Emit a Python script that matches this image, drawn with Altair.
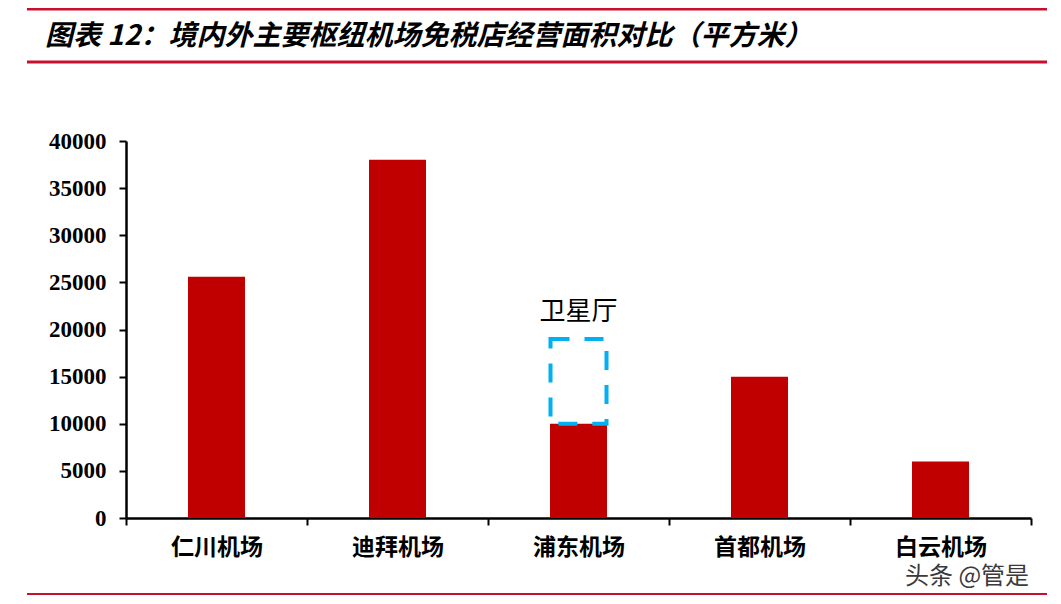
import altair as alt
import pandas as pd

categories = ["仁川机场", "迪拜机场", "浦东机场", "首都机场", "白云机场"]
areas = [25600, 38000, 10000, 15000, 6000]

ann_category = ["浦东机场"]
ann_low = [10000]
ann_high = [19000]
ann_label = ["卫星厅"]

title_text = "图表 12：境内外主要枢纽机场免税店经营面积对比（平方米）"
watermark = "头条 @管是"
y_ticks = [0, 5000, 10000, 15000, 20000, 25000, 30000, 35000, 40000]

df = pd.DataFrame({"cat": categories, "val": areas})
ann = pd.DataFrame({"cat": ann_category, "lo": ann_low, "hi": ann_high, "label": ann_label})
one = pd.DataFrame({"t": [title_text], "w": [watermark]})

W, H = 905, 377
RED = "#C00000"
LINE = "#C8102E"

xenc = alt.X("cat:N", sort=categories, title=None,
             scale=alt.Scale(paddingInner=0, paddingOuter=0),
             axis=alt.Axis(tickBand="extent", labelAngle=0, labelFont="Noto Sans CJK SC",
                           labelFontSize=23, labelFontWeight="bold", labelColor="black",
                           labelPadding=11, tickSize=7, tickWidth=2, tickColor="black",
                           domainColor="black", domainWidth=2.5, grid=False))
yscale = alt.Scale(domain=[0, 40000], nice=False)

bars = alt.Chart(df).mark_bar(size=57, color=RED).encode(
    x=xenc,
    y=alt.Y("val:Q", scale=yscale, title=None,
            axis=alt.Axis(values=y_ticks, format="d", grid=False, labelFont="Liberation Serif",
                          labelFontSize=23, labelFontWeight="bold", labelColor="black",
                          labelPadding=13, tickSize=7, tickWidth=2, tickColor="black",
                          domainColor="black", domainWidth=2.5)),
)

box = alt.Chart(ann).mark_bar(size=56, filled=False, stroke="#00B0F0", strokeWidth=4,
                              strokeDash=[19, 15]).encode(
    x=alt.X("cat:N", sort=categories),
    y=alt.Y("lo:Q", scale=yscale),
    y2="hi:Q",
)

label = alt.Chart(ann).mark_text(font="Noto Sans CJK SC", fontSize=26, color="black",
                                 dy=-27, baseline="middle").encode(
    x=alt.X("cat:N", sort=categories),
    y=alt.Y("hi:Q", scale=yscale),
    text="label:N",
)

def hline(y, x1=-99, x2=921, w=3):
    return alt.Chart(one).mark_rule(color=LINE, strokeWidth=w).encode(
        x=alt.value(x1), x2=alt.value(x2), y=alt.value(y))

title = alt.Chart(one).mark_text(font="Noto Sans CJK SC", fontSize=28, fontWeight="bold",
                                 fontStyle="italic", align="left", baseline="middle",
                                 color="black").encode(
    x=alt.value(-81), y=alt.value(-104), text="t:N")

wm = alt.Chart(one).mark_text(font="Noto Sans CJK SC", fontSize=24, align="left",
                              baseline="middle", color="#3a3a3a").encode(
    x=alt.value(779), y=alt.value(436), text="w:N")

chart = alt.layer(
    hline(-132), hline(-79), hline(453, w=2),
    bars, box, label, title, wm
).properties(
    width=W, height=H,
    view=alt.ViewBackground(strokeWidth=0, stroke="transparent"),
    autosize=alt.AutoSizeParams(type="none"),
    padding={"left": 118, "top": 133, "right": 22, "bottom": 78},
).configure_view(strokeWidth=0, stroke="transparent").configure_axis(grid=False).configure(background="white")

chart.save("out.html", embed_options={"renderer": "svg", "actions": False})
